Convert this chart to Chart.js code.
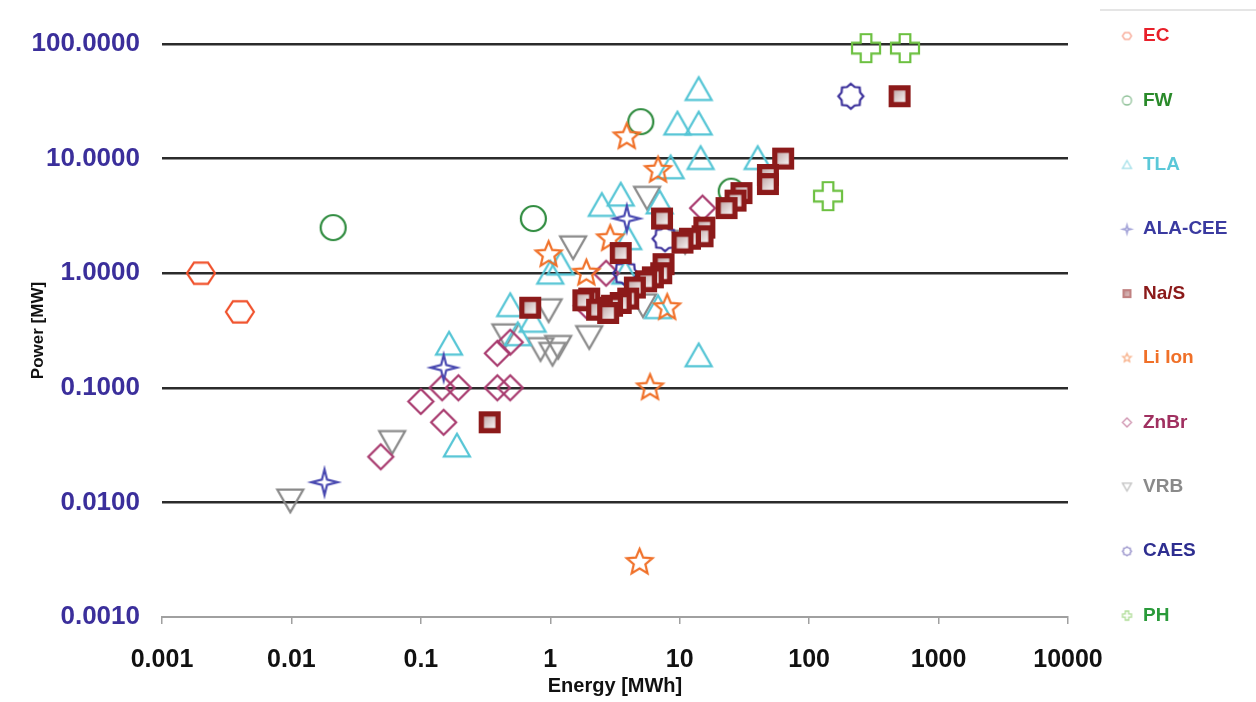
<!DOCTYPE html>
<html>
<head>
<meta charset="utf-8">
<title>Power vs Energy</title>
<script src="https://cdn.jsdelivr.net/npm/chart.js@4.4.0/dist/chart.umd.min.js"></script>
<style>
    html, body { margin: 0; padding: 0; background: #ffffff; }
    #wrap { width: 1256px; height: 702px; }
</style>
</head>
<body>
<div id="wrap"><canvas id="energyPowerChart" width="1256" height="702"></canvas></div>
<script>
// values: energy [MWh] / power [MW]
const ecEnergy = [0.002, 0.004];
const ecPower = [1.0, 0.46];

const fwEnergy = [0.021, 0.74, 5.0, 25];
const fwPower = [2.5, 3.0, 21, 5.2];

const tlaEnergy = [14, 9.6, 14, 14.5, 40, 8.5, 3.5, 2.5, 7.0, 4.0, 3.8, 6.8, 14, 0.49, 0.73, 0.56, 0.165, 0.19, 1.0, 1.2];
const tlaPower = [40, 20, 20, 10, 10, 8.3, 4.8, 3.9, 4.1, 2.0, 1.0, 0.5, 0.19, 0.52, 0.38, 0.29, 0.24, 0.031, 1.0, 1.2];

const alaEnergy = [3.9, 0.15, 0.018];
const alaPower = [3.0, 0.15, 0.015];

const nasEnergy = [500, 63, 48, 48, 30, 27, 23, 15.5, 15, 12, 10.5, 7.3, 3.5, 7.5, 7.2, 6.2, 5.5, 4.5, 4.0, 3.5, 3.0, 2.5, 2.0, 1.8, 2.3, 2.8, 0.7, 0.34];
const nasPower = [35, 10, 7.2, 6.0, 5.0, 4.3, 3.7, 2.5, 2.1, 2.0, 1.85, 3.0, 1.5, 1.2, 1.0, 0.92, 0.85, 0.75, 0.6, 0.55, 0.52, 0.5, 0.6, 0.58, 0.48, 0.45, 0.5, 0.05];

const liEnergy = [3.9, 6.8, 0.97, 2.9, 1.9, 8.0, 5.9, 4.9];
const liPower = [15.5, 7.9, 1.45, 2.0, 1.0, 0.5, 0.1, 0.003];

const znbrEnergy = [0.39, 0.49, 0.146, 0.195, 0.39, 0.49, 0.1, 0.15, 0.049, 15, 2.7, 1.9];
const znbrPower = [0.2, 0.25, 0.1, 0.1, 0.1, 0.1, 0.076, 0.05, 0.025, 3.7, 1.0, 0.52];

const vrbEnergy = [1.5, 5.6, 0.97, 2.0, 0.45, 0.84, 1.04, 1.15, 0.06, 0.0098, 5.2, 11];
const vrbPower = [1.7, 4.6, 0.48, 0.28, 0.29, 0.22, 0.2, 0.23, 0.034, 0.0105, 0.53, 1.9];

const caesEnergy = [210, 7.7, 3.8];
const caesPower = [35, 2.0, 1.0];

const phEnergy = [275, 550, 140];
const phPower = [92, 92, 4.7];

const xTickValues = [0.001, 0.01, 0.1, 1, 10, 100, 1000, 10000];
const yTickValues = [0.001, 0.01, 0.1, 1, 10, 100];

const toPoints = (xs, ys) => xs.map((x, i) => ({ x: x, y: ys[i] }));

// draws one marker shape into a small canvas, used as pointStyle
const makeMarker = (shape, color, size, lineWidth, alpha) => {
    const pad = Math.ceil(lineWidth) + 2;
    const c = document.createElement('canvas');
    c.width = size + pad * 2;
    c.height = size + pad * 2;
    const g = c.getContext('2d');
    g.globalAlpha = alpha;
    g.translate(c.width / 2, c.height / 2);
    g.strokeStyle = color;
    g.lineWidth = lineWidth;
    g.lineJoin = 'miter';
    const r = size / 2;
    const poly = (pts) => {
        g.beginPath();
        pts.forEach((p, i) => i === 0 ? g.moveTo(p[0], p[1]) : g.lineTo(p[0], p[1]));
        g.closePath();
        g.stroke();
    };
    const starPts = (n, outer, inner, start) => {
        const pts = [];
        for (let i = 0; i < n * 2; i++) {
            const a = start + i * Math.PI / n;
            const rr = i % 2 === 0 ? outer : inner;
            pts.push([rr * Math.cos(a), rr * Math.sin(a)]);
        }
        return pts;
    };
    if (shape === 'hexagon') {
        const pts = [];
        for (let i = 0; i < 6; i++) {
            const a = i * Math.PI / 3;
            pts.push([r * Math.cos(a), r * 0.88 * Math.sin(a)]);
        }
        poly(pts);
    } else if (shape === 'circle') {
        g.beginPath();
        g.arc(0, 0, r, 0, Math.PI * 2);
        g.stroke();
    } else if (shape === 'triangle') {
        poly([[0, -r * 0.95], [r, r * 0.8], [-r, r * 0.8]]);
    } else if (shape === 'triangleDown') {
        poly([[0, r * 0.95], [r, -r * 0.8], [-r, -r * 0.8]]);
    } else if (shape === 'diamond') {
        poly([[0, -r], [r, 0], [0, r], [-r, 0]]);
    } else if (shape === 'star4') {
        poly(starPts(4, r, r * 0.28, -Math.PI / 2));
    } else if (shape === 'star5') {
        poly(starPts(5, r, r * 0.45, -Math.PI / 2));
    } else if (shape === 'flower') {
        poly(starPts(8, r, r * 0.8, -Math.PI / 2));
    } else if (shape === 'plus') {
        const a = r * 0.38;
        poly([[-a, -r], [a, -r], [a, -a], [r, -a], [r, a], [a, a], [a, r], [-a, r], [-a, a], [-r, a], [-r, -a], [-a, -a]]);
    } else if (shape === 'nas') {
        g.fillStyle = color;
        g.fillRect(-r, -r, size, size);
        const inner = size * 0.52;
        const grad = g.createLinearGradient(-inner / 2, -inner / 2, inner / 2, inner / 2);
        grad.addColorStop(0, '#c4acac');
        grad.addColorStop(1, '#f6f2f2');
        g.fillStyle = grad;
        g.fillRect(-inner / 2, -inner / 2, inner, inner);
    }
    return c;
};

const series = [
    { label: 'EC', energy: ecEnergy, power: ecPower, shape: 'hexagon', size: 28, color: '#f0502a', text: '#e8202a', order: 9 },
    { label: 'FW', energy: fwEnergy, power: fwPower, shape: 'circle', size: 25, color: '#2e8b3e', text: '#2a8a2a', order: 8 },
    { label: 'TLA', energy: tlaEnergy, power: tlaPower, shape: 'triangle', size: 26, color: '#55c5d5', text: '#5bc8d8', order: 6 },
    { label: 'ALA-CEE', energy: alaEnergy, power: alaPower, shape: 'star4', size: 26, color: '#4848b0', text: '#3a3aa0', order: 3 },
    { label: 'Na/S', energy: nasEnergy, power: nasPower, shape: 'nas', size: 22, color: '#8c1a1a', text: '#8b1a1a', order: 0 },
    { label: 'Li Ion', energy: liEnergy, power: liPower, shape: 'star5', size: 27, color: '#f07028', text: '#f07028', order: 2 },
    { label: 'ZnBr', energy: znbrEnergy, power: znbrPower, shape: 'diamond', size: 25, color: '#a83a6e', text: '#a03060', order: 5 },
    { label: 'VRB', energy: vrbEnergy, power: vrbPower, shape: 'triangleDown', size: 26, color: '#8a8a8a', text: '#8a8a8a', order: 7 },
    { label: 'CAES', energy: caesEnergy, power: caesPower, shape: 'flower', size: 25, color: '#3a2f9a', text: '#2e2e90', order: 1 },
    { label: 'PH', energy: phEnergy, power: phPower, shape: 'plus', size: 28, color: '#6cc040', text: '#2a9a3a', order: 4 }
];

const datasets = series.map(s => ({
    label: s.label,
    data: toPoints(s.energy, s.power),
    pointStyle: makeMarker(s.shape, s.color, s.size, s.shape === 'nas' ? 0 : 2.2, 1),
    legendMarker: makeMarker(s.shape, s.color, 9, 1.3, 0.55),
    legendColor: s.text,
    order: s.order,
    clip: false,
    showLine: false
}));

const legendTop = 36;
const legendStep = 64.4;

const sideLegend = {
    id: 'sideLegend',
    afterDraw(chart) {
        const ctx = chart.ctx;
        ctx.save();
        ctx.strokeStyle = '#dddddd';
        ctx.lineWidth = 1.5;
        ctx.beginPath();
        ctx.moveTo(1100, 10);
        ctx.lineTo(1256, 10);
        ctx.stroke();
        ctx.font = 'bold 19px "Liberation Sans", Arial, sans-serif';
        ctx.textBaseline = 'middle';
        ctx.textAlign = 'left';
        chart.data.datasets.forEach((ds, i) => {
            const y = legendTop + i * legendStep;
            const m = ds.legendMarker;
            ctx.drawImage(m, 1127 - m.width / 2, y - m.height / 2);
            ctx.fillStyle = ds.legendColor;
            ctx.fillText(ds.label, 1143, y);
        });
        ctx.restore();
    }
};

const ctxChart = document.getElementById('energyPowerChart').getContext('2d');
const energyPowerChart = new Chart(ctxChart, {
    type: 'scatter',
    data: { datasets: datasets },
    options: {
        responsive: false,
        animation: false,
        layout: { padding: { top: 44, right: 188, bottom: 0, left: 0 } },
        plugins: {
            legend: { display: false },
            tooltip: { enabled: false }
        },
        scales: {
            x: {
                type: 'logarithmic',
                min: 0.001,
                max: 10000,
                afterBuildTicks: (scale) => { scale.ticks = xTickValues.map(v => ({ value: v })); },
                afterFit: (scale) => { scale.height = 85; },
                ticks: {
                    color: '#111111',
                    padding: 21,
                    maxRotation: 0,
                    autoSkip: false,
                    font: { family: '"Liberation Sans", Arial, sans-serif', size: 25, weight: 'bold' },
                    callback: (value) => String(value)
                },
                grid: {
                    drawOnChartArea: false,
                    drawTicks: true,
                    tickLength: 7,
                    color: '#a0a0a0',
                    lineWidth: 1.5
                },
                border: { display: true, color: '#a0a0a0', width: 2 },
                title: {
                    display: true,
                    text: 'Energy [MWh]',
                    color: '#111111',
                    padding: { top: 0, bottom: 4 },
                    font: { family: '"Liberation Sans", Arial, sans-serif', size: 20, weight: 'bold' }
                }
            },
            y: {
                type: 'logarithmic',
                min: 0.001,
                max: 100,
                afterBuildTicks: (scale) => { scale.ticks = yTickValues.map(v => ({ value: v })); },
                afterFit: (scale) => { scale.width = 162; },
                ticks: {
                    color: '#3b2f9b',
                    padding: 22,
                    autoSkip: false,
                    font: { family: '"Liberation Sans", Arial, sans-serif', size: 26, weight: 'bold' },
                    callback: (value) => Number(value).toFixed(4)
                },
                grid: {
                    drawTicks: false,
                    color: (c) => c.tick && c.tick.value === 0.001 ? 'rgba(0,0,0,0)' : '#2b2b2b',
                    lineWidth: 2.5
                },
                border: { display: false },
                title: {
                    display: true,
                    text: 'Power [MW]',
                    color: '#111111',
                    padding: { top: 28, bottom: 0 },
                    font: { family: '"Liberation Sans", Arial, sans-serif', size: 17, weight: 'bold' }
                }
            }
        }
    },
    plugins: [sideLegend]
});
</script>
</body>
</html>
